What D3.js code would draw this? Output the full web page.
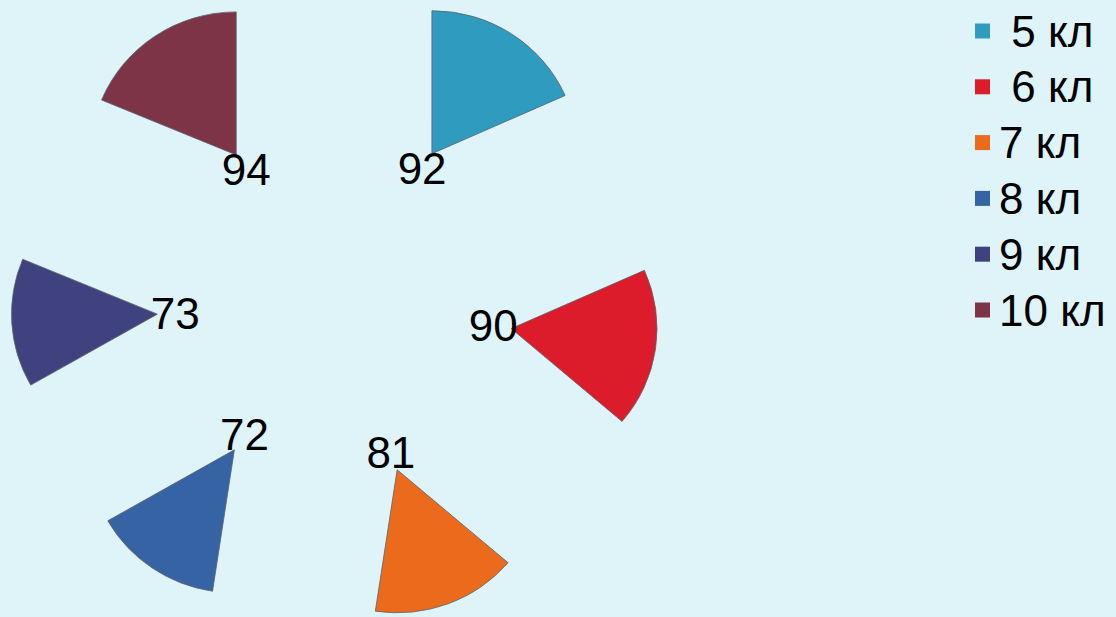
<!DOCTYPE html>
<html>
<head>
<meta charset="utf-8">
<script src="https://cdn.jsdelivr.net/npm/d3@7"></script>
<style>
html,body{margin:0;padding:0;background:#dff4f9;}
svg{display:block;}
text{font-family:"Liberation Sans",Arial,sans-serif;fill:#000;}
</style>
</head>
<body>
<svg id="chart" width="1116" height="617"></svg>
<script>
const categories = ["5 кл", "6 кл", "7 кл", "8 кл", "9 кл", "10 кл"];
const legendLabels = [" 5 кл", " 6 кл", "7 кл", "8 кл", "9 кл", "10 кл"];
const values = [92, 90, 81, 72, 73, 94];
const colors = ["#2e9bbf", "#dc1c2a", "#ec6a1c", "#3563a3", "#3f427e", "#7c3446"];

const W = 1116, H = 617;
const svg = d3.select("#chart");
svg.append("rect").attr("width", W).attr("height", H).attr("fill", "#dff4f9");

const cx = 335, cy = 303;
const radius = 143;
const explode = 178;
const labelR = 160;

const pie = d3.pie().sort(null).value(d => d)(values);
const arc = d3.arc().innerRadius(0).outerRadius(radius);
const color = d3.scaleOrdinal().domain(categories).range(colors);

const g = svg.append("g").attr("transform", `translate(${cx},${cy})`);

pie.forEach((p, i) => {
  const mid = (p.startAngle + p.endAngle) / 2;
  const dx = Math.sin(mid) * explode, dy = -Math.cos(mid) * explode;
  g.append("path")
    .attr("d", arc(p))
    .attr("transform", `translate(${dx},${dy}) scale(1.02,1)`)
    .attr("fill", color(categories[i]))
    .attr("stroke", "#5a6470")
    .attr("stroke-width", 0.8);
});

pie.forEach((p, i) => {
  const mid = (p.startAngle + p.endAngle) / 2;
  g.append("text")
    .attr("x", Math.sin(mid) * labelR)
    .attr("y", -Math.cos(mid) * labelR)
    .attr("text-anchor", "middle")
    .attr("dominant-baseline", "central")
    .attr("font-size", 44)
    .text(values[i]);
});

// legend
const legendY = d3.scalePoint().domain(categories).range([31, 310]);
const lg = svg.append("g");
categories.forEach((c, i) => {
  const y = legendY(c);
  lg.append("rect")
    .attr("x", 975).attr("y", y - 7.5)
    .attr("width", 15).attr("height", 15)
    .attr("fill", color(c));
  lg.append("text")
    .attr("x", 999).attr("y", y)
    .attr("dominant-baseline", "central")
    .attr("font-size", 44)
    .attr("xml:space", "preserve")
    .style("white-space", "pre")
    .text(legendLabels[i]);
});
</script>
</body>
</html>
